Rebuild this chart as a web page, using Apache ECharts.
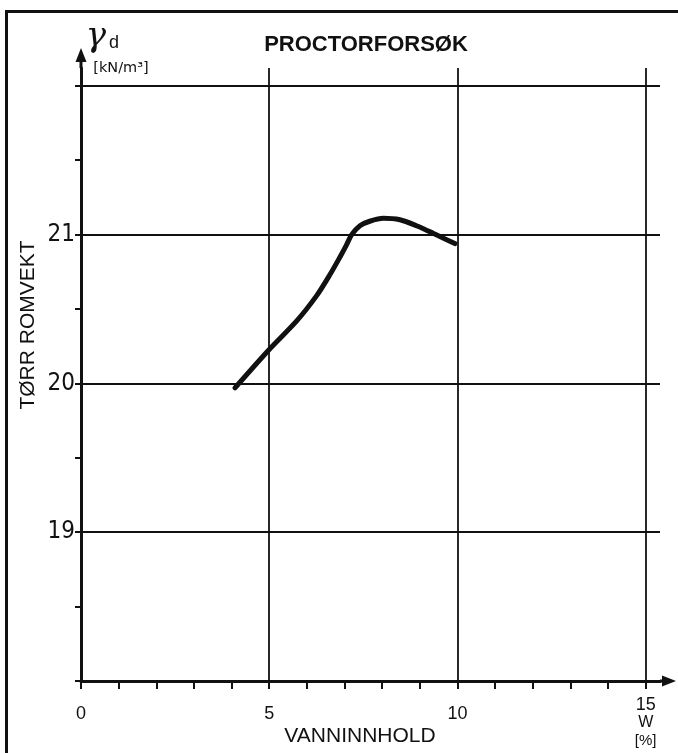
<!DOCTYPE html>
<html>
<head>
<meta charset="utf-8">
<title>Proctorforsøk</title>
<script src="https://cdn.jsdelivr.net/npm/echarts@6/dist/echarts.min.js"></script>
<style>
  html, body { margin: 0; padding: 0; background: #fff; overflow: hidden; }
  #frame {
    position: absolute; left: 5px; top: 10px; width: 700px; height: 800px;
    border-left: 3px solid #111; border-top: 3px solid #111;
  }
  #chart { position: absolute; left: 0; top: 0; width: 678px; height: 753px; }
</style>
</head>
<body>
<div id="frame"></div>
<div id="chart"></div>
<script>
// vanninnhold w [%] og tørr romvekt γd [kN/m³], avlest fra kurven
var moisture = [4.09, 4.97, 5.73, 6.26, 6.61, 6.88, 7.05, 7.19, 7.41, 7.67, 8.03, 8.47, 8.91, 9.35, 9.93];
var dryDensity = [19.97, 20.22, 20.42, 20.59, 20.73, 20.85, 20.93, 21.00, 21.06, 21.09, 21.11, 21.10, 21.06, 21.01, 20.94];

// akser
var xTicks = [0, 1, 2, 3, 4, 5, 6, 7, 8, 9, 10, 11, 12, 13, 14, 15];
var xLabels = [0, 5, 10, 15];
var xGrid = [5, 10, 15];
var yTicks = [18, 18.5, 19, 19.5, 20, 20.5, 21, 21.5, 22];
var yLabels = [19, 20, 21];
var yGrid = [19, 20, 21, 22];

var INK = '#111';
var SANS = "'Liberation Sans', Arial, sans-serif";

var chart = echarts.init(document.getElementById('chart'), null, { renderer: 'canvas' });

var curve = [];
for (var i = 0; i < moisture.length; i++) {
  curve.push([moisture[i], dryDensity[i]]);
}

var gridLines = [];
yGrid.forEach(function (v) { gridLines.push({ yAxis: v }); });
xGrid.forEach(function (v) { gridLines.push({ xAxis: v }); });

chart.setOption({
  animation: false,
  grid: {
    left: 81,
    right: 18,
    top: 68,
    bottom: 72,
    outerBoundsMode: 'none'
  },
  xAxis: {
    type: 'value',
    min: 0,
    max: 15.38,
    interval: 1,
    axisLine: {
      show: true,
      symbol: ['none', 'path://M5.5,0 L11,14 L7,14 L7,16 L4,16 L4,14 L0,14 Z'],
      symbolSize: [11, 16],
      symbolOffset: [0, 8],
      lineStyle: { color: INK, width: 3 }
    },
    axisTick: {
      show: true,
      customValues: xTicks,
      length: 8,
      lineStyle: { color: INK, width: 2 }
    },
    axisLabel: {
      show: true,
      customValues: xLabels,
      margin: 15,
      color: INK,
      fontSize: 18,
      fontFamily: SANS,
      formatter: function (v) {
        if (xLabels.indexOf(v) < 0) return '';
        if (v === 15) return '{h|15}\n{s|W}\n{p|[%]}';
        return '{n|' + v + '}';
      },
      rich: {
        n: { fontSize: 18, lineHeight: 36, color: INK, fontFamily: SANS },
        h: { fontSize: 18, lineHeight: 18, color: INK, fontFamily: SANS },
        s: { fontSize: 16, lineHeight: 17, color: INK, fontFamily: SANS },
        p: { fontSize: 15, lineHeight: 19, color: INK, fontFamily: SANS }
      }
    },
    splitLine: { show: false }
  },
  yAxis: {
    type: 'value',
    min: 18,
    max: 22.12,
    interval: 0.5,
    axisLine: {
      show: true,
      symbol: ['none', 'path://M5.5,0 L11,14 L7,14 L7,20 L4,20 L4,14 L0,14 Z'],
      symbolSize: [11, 20],
      symbolOffset: [0, 10],
      lineStyle: { color: INK, width: 3 }
    },
    axisTick: {
      show: true,
      customValues: yTicks,
      length: 6,
      lineStyle: { color: INK, width: 2 }
    },
    axisLabel: {
      show: true,
      customValues: yLabels,
      margin: 6,
      color: INK,
      fontSize: 24,
      fontFamily: "'Liberation Sans Narrow', 'DejaVu Sans Condensed', sans-serif",
      formatter: function (v) {
        return yLabels.indexOf(v) < 0 ? '' : String(v);
      }
    },
    splitLine: { show: false }
  },
  series: [
    {
      type: 'line',
      data: curve,
      smooth: 0.3,
      showSymbol: false,
      symbol: 'none',
      silent: true,
      lineStyle: { color: INK, width: 5, cap: 'round', join: 'round' },
      z: 5,
      markLine: {
        silent: true,
        symbol: ['none', 'none'],
        label: { show: false },
        lineStyle: { color: INK, width: 1.8, type: 'solid' },
        emphasis: { disabled: true },
        data: gridLines
      }
    }
  ],
  graphic: [
    {
      type: 'text', x: 366, y: 45,
      style: { text: 'PROCTORFORSØK', fontSize: 22, fontWeight: 'bold', fontFamily: SANS,
               fill: INK, align: 'center', verticalAlign: 'middle' }
    },
    {
      type: 'text', x: 360, y: 736,
      style: { text: 'VANNINNHOLD', fontSize: 21, fontFamily: SANS,
               fill: INK, align: 'center', verticalAlign: 'middle' }
    },
    {
      type: 'text', x: 28, y: 325, rotation: Math.PI / 2,
      style: { text: 'TØRR ROMVEKT', fontSize: 21, fontFamily: SANS,
               fill: INK, align: 'center', verticalAlign: 'middle' }
    },
    {
      type: 'text', x: 96, y: 37,
      style: { text: 'γ', fontSize: 34, fontStyle: 'italic', fontFamily: "'DejaVu Serif', serif",
               fill: INK, align: 'center', verticalAlign: 'middle' }
    },
    {
      type: 'text', x: 114, y: 43,
      style: { text: 'd', fontSize: 18, fontFamily: SANS,
               fill: INK, align: 'center', verticalAlign: 'middle' }
    },
    {
      type: 'text', x: 121, y: 68,
      style: { text: '[kN/m³]', fontSize: 14.5, fontFamily: "'DejaVu Sans', sans-serif",
               fill: INK, align: 'center', verticalAlign: 'middle' }
    }
  ]
});
</script>
</body>
</html>
